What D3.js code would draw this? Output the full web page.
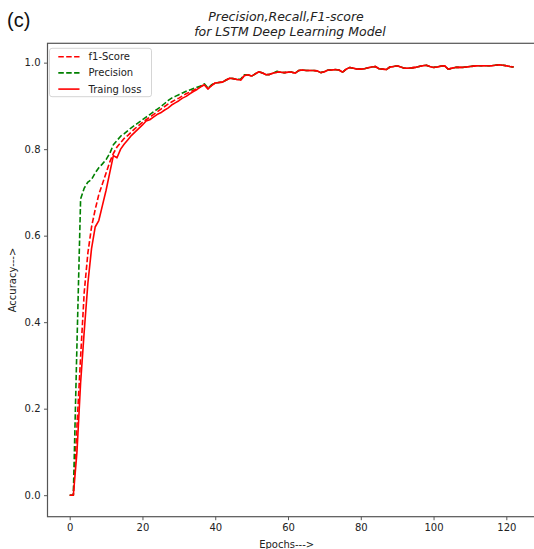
<!DOCTYPE html>
<html>
<head>
<meta charset="utf-8">
<script src="https://cdn.jsdelivr.net/npm/d3@7"></script>
<style>
  body { margin: 0; background: #fff; }
  svg { display: block; }
  text { font-family: "DejaVu Sans", sans-serif; }
</style>
</head>
<body>
<div id="chart"></div>
<script>
// values, one per epoch (0..122)
var f1Score = [
  0, 0, 0.16, 0.32, 0.47, 0.56, 0.62, 0.66, 0.695, 0.72,
  0.745, 0.77, 0.79, 0.805, 0.815, 0.825, 0.832, 0.84, 0.848, 0.855,
  0.862, 0.868, 0.874, 0.880, 0.886, 0.892, 0.898, 0.904, 0.909, 0.914,
  0.918, 0.923, 0.928, 0.932, 0.936, 0.940, 0.945, 0.949, 0.940, 0.948,
  0.953, 0.954, 0.955, 0.960, 0.964, 0.963, 0.961, 0.960, 0.970, 0.972,
  0.969, 0.974, 0.979, 0.976, 0.972, 0.973, 0.976, 0.978, 0.978, 0.977,
  0.978, 0.978, 0.976, 0.982, 0.983, 0.982, 0.982, 0.982, 0.981, 0.977,
  0.979, 0.983, 0.983, 0.984, 0.983, 0.978, 0.985, 0.989, 0.987, 0.985,
  0.985, 0.986, 0.988, 0.990, 0.991, 0.986, 0.985, 0.984, 0.990, 0.991,
  0.993, 0.990, 0.987, 0.987, 0.988, 0.989, 0.991, 0.993, 0.994, 0.991,
  0.989, 0.990, 0.992, 0.993, 0.985, 0.987, 0.989, 0.989, 0.989, 0.990,
  0.991, 0.992, 0.993, 0.993, 0.993, 0.993, 0.993, 0.994, 0.995, 0.994,
  0.993, 0.991, 0.990
];
var precision = [
  0, 0, 0.35, 0.685, 0.71, 0.724, 0.73, 0.745, 0.757, 0.766,
  0.776, 0.79, 0.81, 0.82, 0.83, 0.836, 0.843, 0.85, 0.856, 0.862,
  0.868, 0.874, 0.880, 0.886, 0.892, 0.898, 0.905, 0.912, 0.918, 0.922,
  0.926, 0.930, 0.934, 0.937, 0.940, 0.943, 0.946, 0.951, 0.941, 0.949,
  0.953, 0.954, 0.955, 0.960, 0.964, 0.963, 0.961, 0.962, 0.972, 0.972,
  0.969, 0.974, 0.979, 0.976, 0.972, 0.973, 0.976, 0.980, 0.978, 0.977,
  0.978, 0.978, 0.976, 0.982, 0.983, 0.982, 0.982, 0.982, 0.981, 0.977,
  0.979, 0.983, 0.983, 0.984, 0.983, 0.978, 0.985, 0.989, 0.987, 0.985,
  0.985, 0.986, 0.988, 0.990, 0.991, 0.986, 0.985, 0.984, 0.990, 0.991,
  0.993, 0.990, 0.987, 0.987, 0.988, 0.989, 0.991, 0.993, 0.994, 0.991,
  0.989, 0.990, 0.992, 0.993, 0.985, 0.987, 0.989, 0.989, 0.989, 0.990,
  0.991, 0.992, 0.993, 0.993, 0.993, 0.993, 0.993, 0.994, 0.995, 0.994,
  0.993, 0.991, 0.990
];
var trainLoss = [
  0, 0, 0.10, 0.26, 0.38, 0.49, 0.57, 0.62, 0.635, 0.67,
  0.705, 0.745, 0.785, 0.78, 0.80, 0.812, 0.822, 0.832, 0.84, 0.848,
  0.856, 0.865, 0.868, 0.874, 0.880, 0.884, 0.890, 0.895, 0.902, 0.907,
  0.912, 0.918, 0.922, 0.928, 0.933, 0.938, 0.944, 0.949, 0.939, 0.947,
  0.953, 0.954, 0.955, 0.960, 0.964, 0.963, 0.961, 0.960, 0.970, 0.972,
  0.969, 0.974, 0.979, 0.976, 0.972, 0.973, 0.976, 0.978, 0.978, 0.977,
  0.978, 0.978, 0.976, 0.982, 0.983, 0.982, 0.982, 0.982, 0.981, 0.977,
  0.979, 0.983, 0.983, 0.984, 0.983, 0.978, 0.985, 0.989, 0.987, 0.985,
  0.985, 0.986, 0.988, 0.990, 0.991, 0.986, 0.985, 0.984, 0.990, 0.991,
  0.993, 0.990, 0.987, 0.987, 0.988, 0.989, 0.991, 0.993, 0.994, 0.991,
  0.989, 0.990, 0.992, 0.993, 0.985, 0.987, 0.989, 0.989, 0.989, 0.990,
  0.991, 0.992, 0.993, 0.993, 0.993, 0.993, 0.993, 0.994, 0.995, 0.994,
  0.993, 0.991, 0.990
];
var xTicks = [0, 20, 40, 60, 80, 100, 120];
var yTicks = [0.0, 0.2, 0.4, 0.6, 0.8, 1.0];

var series = [
  {name: "f1-Score", values: f1Score, color: "red", dash: "5.5,2.4"},
  {name: "Precision", values: precision, color: "green", dash: "5.5,2.4"},
  {name: "Traing loss", values: trainLoss, color: "red", dash: null}
];

const W = 534, H = 549;
const margin = {top: 43.3, left: 47.5, bottom: 516.7, right: 535.8};

const svg = d3.select("#chart").append("svg")
  .attr("width", W).attr("height", H);

// matplotlib style 5% margins
const x = d3.scaleLinear().domain([-6.1, 128.1]).range([margin.left, margin.right]);
const y = d3.scaleLinear().domain([-0.04975, 1.04475]).range([margin.bottom, margin.top]);

// lines
const line = d3.line()
  .x((d, i) => x(i))
  .y(d => y(d));

svg.append("g")
  .selectAll("path")
  .data(series)
  .join("path")
  .attr("d", d => line(d.values))
  .attr("fill", "none")
  .attr("stroke", d => d.color)
  .attr("stroke-width", 1.6)
  .attr("stroke-dasharray", d => d.dash)
  .attr("stroke-linejoin", "round");

// axes
const xAxis = svg.append("g")
  .attr("transform", `translate(0,${margin.bottom})`)
  .call(d3.axisBottom(x).tickValues(xTicks).tickSize(3.5).tickPadding(3.5).tickFormat(d3.format("d")));
const yAxis = svg.append("g")
  .attr("transform", `translate(${margin.left},0)`)
  .call(d3.axisLeft(y).tickValues(yTicks).tickSize(3.5).tickPadding(3.5).tickFormat(d3.format(".1f")));

[xAxis, yAxis].forEach(a => {
  a.select(".domain").remove();
  a.selectAll("line").attr("stroke", "#444").attr("stroke-width", 0.9);
  a.selectAll("text").attr("fill", "#222").style("font-size", "10px")
    .style("font-family", "'DejaVu Sans', sans-serif");
});

// frame
svg.append("rect")
  .attr("x", margin.left).attr("y", margin.top)
  .attr("width", margin.right - margin.left).attr("height", margin.bottom - margin.top)
  .attr("fill", "none").attr("stroke", "#555").attr("stroke-width", 1.2);

// titles
svg.append("text")
  .attr("x", 286).attr("y", 21)
  .attr("text-anchor", "middle")
  .style("font-size", "12.5px").style("font-style", "italic")
  .attr("fill", "#222")
  .text("Precision,Recall,F1-score");
svg.append("text")
  .attr("x", 290).attr("y", 35.5)
  .attr("text-anchor", "middle")
  .style("font-size", "12.5px").style("font-style", "italic")
  .attr("fill", "#222")
  .text("for LSTM Deep Learning Model");

svg.append("text")
  .attr("x", 7).attr("y", 27)
  .style("font-family", "'Liberation Sans', Arial, sans-serif")
  .style("font-size", "20px")
  .attr("fill", "#111")
  .text("(c)");

svg.append("text")
  .attr("x", (margin.left + margin.right) / 2 - 5).attr("y", 547.5)
  .attr("text-anchor", "middle")
  .style("font-size", "10px").attr("fill", "#222")
  .text("Epochs--->");

svg.append("text")
  .attr("transform", `translate(15.5,${(margin.top + margin.bottom) / 2}) rotate(-90)`)
  .attr("text-anchor", "middle")
  .style("font-size", "10px").attr("fill", "#222")
  .text("Accuracy--->");

// legend
const legend = svg.append("g");
legend.append("rect")
  .attr("x", 49.5).attr("y", 48.3)
  .attr("width", 102).attr("height", 48.4)
  .attr("rx", 2.5)
  .attr("fill", "#fff").attr("fill-opacity", 0.8)
  .attr("stroke", "#d0d0d0").attr("stroke-width", 0.9);

const item = legend.selectAll("g.item")
  .data(series)
  .join("g")
  .attr("class", "item")
  .attr("transform", (d, i) => `translate(0,${56.7 + i * 16.2})`);
item.append("line")
  .attr("x1", 58.3).attr("x2", 79.5)
  .attr("stroke", d => d.color)
  .attr("stroke-width", 1.6)
  .attr("stroke-dasharray", d => d.dash);
item.append("text")
  .attr("x", 88.5).attr("dy", "0.35em")
  .style("font-size", "10px").attr("fill", "#222")
  .text(d => d.name);
</script>
</body>
</html>
